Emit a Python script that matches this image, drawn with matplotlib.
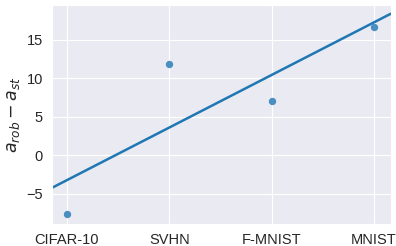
import matplotlib
matplotlib.use("Agg")
import matplotlib.pyplot as plt
import seaborn as sns
import numpy as np

datasets = ["CIFAR-10", "SVHN", "F-MNIST", "MNIST"]
gap = [-7.6, 11.8, 7.1, 16.7]

sns.set_style("darkgrid")
plt.rcParams['font.family'] = ['Arial', 'Liberation Sans', 'DejaVu Sans']

fig, ax = plt.subplots(figsize=(3.96, 2.46), dpi=100)
x = np.arange(len(datasets))
ax.scatter(x, gap, color="C0", alpha=0.8, s=28, linewidths=0, zorder=3)

# least squares fit, drawn across the whole axis
xlim = (-0.147, 3.166)
k, b = np.polyfit(x, gap, 1)
xs = np.array(xlim)
ax.plot(xs, k * xs + b, color="C0", lw=1.8, zorder=2)

ax.set_xlim(*xlim)
ax.set_ylim(-8.9, 19.5)
ax.set_xticks(x)
ax.set_xticklabels(datasets, fontsize=10.5)
ax.set_yticks([-5, 0, 5, 10, 15])
ax.tick_params(axis="y", labelsize=10.5, pad=3)
ax.tick_params(axis="x", pad=3)
ax.set_ylabel(r"$a_{rob} - a_{st}$", fontsize=12.5, labelpad=3)

fig.subplots_adjust(left=0.131, right=0.987, top=0.98, bottom=0.09)
fig.savefig("out.png", dpi=100)
